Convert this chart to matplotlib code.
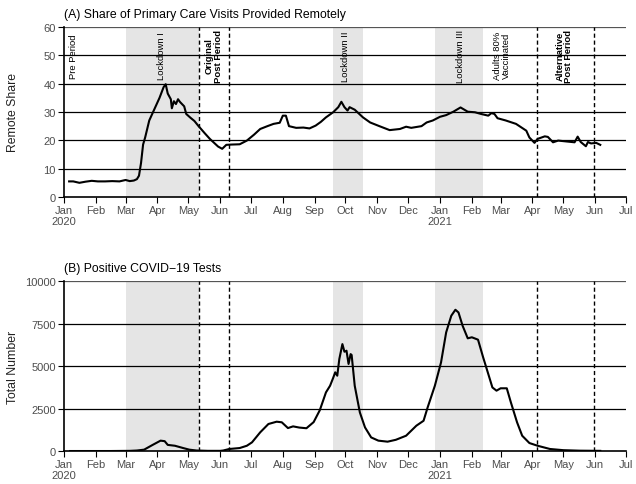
import pandas as pd
import numpy as np
import matplotlib
matplotlib.use('Agg')
import matplotlib.pyplot as plt

plt.rcParams['font.family'] = ['Liberation Sans', 'DejaVu Sans']

# Panel A: remote share of primary care visits (%)
remote_dates = ['2020-01-06', '2020-01-10', '2020-01-16', '2020-01-22', '2020-01-28',
                '2020-02-03', '2020-02-10', '2020-02-17', '2020-02-24', '2020-03-01',
                '2020-03-05', '2020-03-09', '2020-03-12', '2020-03-14', '2020-03-16',
                '2020-03-18', '2020-03-20', '2020-03-24', '2020-03-29', '2020-04-03',
                '2020-04-07', '2020-04-09', '2020-04-11', '2020-04-14', '2020-04-15',
                '2020-04-17', '2020-04-19', '2020-04-21', '2020-04-23', '2020-04-27',
                '2020-04-29', '2020-05-03', '2020-05-07', '2020-05-11', '2020-05-17',
                '2020-05-22', '2020-05-30', '2020-06-03', '2020-06-07', '2020-06-12',
                '2020-06-20', '2020-06-27', '2020-07-04', '2020-07-10', '2020-07-17',
                '2020-07-23', '2020-07-29', '2020-08-01', '2020-08-04', '2020-08-07',
                '2020-08-14', '2020-08-21', '2020-08-27', '2020-09-02', '2020-09-07',
                '2020-09-12', '2020-09-19', '2020-09-24', '2020-09-27', '2020-09-30',
                '2020-10-03', '2020-10-05', '2020-10-10', '2020-10-18', '2020-10-25',
                '2020-11-03', '2020-11-13', '2020-11-23', '2020-11-29', '2020-12-04',
                '2020-12-14', '2020-12-19', '2020-12-25', '2021-01-01', '2021-01-07',
                '2021-01-14', '2021-01-21', '2021-01-28', '2021-02-04', '2021-02-10',
                '2021-02-17', '2021-02-20', '2021-02-23', '2021-02-26', '2021-03-06',
                '2021-03-16', '2021-03-26', '2021-03-29', '2021-04-03', '2021-04-06',
                '2021-04-13', '2021-04-16', '2021-04-21', '2021-04-26', '2021-05-04',
                '2021-05-12', '2021-05-15', '2021-05-18', '2021-05-23', '2021-05-25',
                '2021-05-28', '2021-06-02', '2021-06-06']
remote_share = [5.5, 5.5, 5.0, 5.4, 5.7,
                5.5, 5.5, 5.6, 5.5, 6.0,
                5.6, 5.8, 6.3, 7.5, 12.0,
                18.5, 21.0, 27.0, 31.0, 35.0,
                38.8, 39.8, 36.5, 34.5, 31.3,
                33.8, 32.8, 34.5, 33.5, 32.0,
                29.3, 28.0, 26.8, 25.0, 22.5,
                20.5, 17.8, 17.0, 18.4, 18.5,
                18.6, 19.9, 22.0, 24.0, 25.0,
                25.8, 26.2, 28.7, 28.7, 25.0,
                24.4, 24.5, 24.2, 25.2, 26.5,
                28.1, 29.9, 31.7, 33.6, 31.7,
                30.5, 31.7, 30.8, 28.1, 26.3,
                25.0, 23.6, 24.0, 24.8, 24.4,
                25.0, 26.3, 27.0, 28.3, 28.9,
                30.1, 31.6, 30.1, 29.9, 29.3,
                28.7, 29.6, 29.3, 27.8, 27.0,
                25.8, 23.4, 21.0, 19.1, 20.5,
                21.4, 21.2, 19.3, 19.9, 19.6,
                19.3, 21.3, 19.4, 17.9, 19.4,
                18.9, 19.1, 18.4]

# Panel B: positive COVID-19 tests
covid_dates = ['2020-01-07', '2020-02-15', '2020-03-05', '2020-03-12', '2020-03-19',
               '2020-03-27', '2020-04-04', '2020-04-08', '2020-04-11', '2020-04-18',
               '2020-04-26', '2020-05-02', '2020-05-09', '2020-05-20', '2020-06-01',
               '2020-06-04', '2020-06-10', '2020-06-20', '2020-06-27', '2020-07-02',
               '2020-07-10', '2020-07-18', '2020-07-26', '2020-07-31', '2020-08-06',
               '2020-08-11', '2020-08-17', '2020-08-24', '2020-08-31', '2020-09-06',
               '2020-09-12', '2020-09-16', '2020-09-19', '2020-09-21', '2020-09-23',
               '2020-09-25', '2020-09-28', '2020-09-30', '2020-10-02', '2020-10-04',
               '2020-10-06', '2020-10-07', '2020-10-10', '2020-10-15', '2020-10-20',
               '2020-10-26', '2020-11-02', '2020-11-11', '2020-11-19', '2020-11-29',
               '2020-12-09', '2020-12-16', '2020-12-20', '2020-12-27', '2021-01-02',
               '2021-01-07', '2021-01-12', '2021-01-16', '2021-01-19', '2021-01-23',
               '2021-01-28', '2021-02-01', '2021-02-07', '2021-02-12', '2021-02-17',
               '2021-02-21', '2021-02-25', '2021-03-01', '2021-03-07', '2021-03-11',
               '2021-03-17', '2021-03-22', '2021-03-29', '2021-04-06', '2021-04-18',
               '2021-05-01', '2021-05-17', '2021-06-06']
covid_tests = [0, 0, 10, 30, 80,
               350, 610, 580, 360, 310,
               175, 80, 30, 10, 10,
               30, 120, 175, 310, 510,
               1100, 1590, 1725, 1690, 1350,
               1450, 1380, 1340, 1700, 2400,
               3450, 3840, 4300, 4630, 4430,
               5410, 6290, 5840, 5900, 5120,
               5700, 5650, 3840, 2270, 1390,
               800, 610, 550, 660, 900,
               1490, 1780, 2570, 3840, 5210,
               6980, 7960, 8310, 8150, 7370,
               6630, 6690, 6550, 5510, 4530,
               3740, 3550, 3690, 3690, 2860,
               1690, 900, 470, 310, 120,
               50, 20, 10]

# shaded lockdowns and dashed period boundaries
lockdowns = [('2020-03-01', '2020-05-11'), ('2020-09-19', '2020-10-18'), ('2020-12-27', '2021-02-12')]
dashed = ['2020-05-11', '2020-06-10', '2021-04-05', '2021-05-31']

notes = ['Pre Period', 'Lockdown I', 'Original\nPost Period', 'Lockdown II',
         'Lockdown III', 'Adults 80%\nVaccinated', 'Alternative\nPost Period']
note_dates = ['2020-01-10', '2020-04-05', '2020-05-26', '2020-10-01',
              '2021-01-21', '2021-03-02', '2021-05-02']
note_bold = [False, False, True, False, False, False, True]

month_ticks = pd.date_range('2020-01-01', '2021-07-01', freq='MS')
month_labels = ['Jan\n2020', 'Feb', 'Mar', 'Apr', 'May', 'Jun', 'Jul', 'Aug', 'Sep',
                'Oct', 'Nov', 'Dec', 'Jan\n2021', 'Feb', 'Mar', 'Apr', 'May', 'Jun', 'Jul']

fig = plt.figure(figsize=(6.36, 4.85), dpi=100)
ax1 = fig.add_axes([0.1006, 0.5918, 0.8836, 0.3505])
ax2 = fig.add_axes([0.1006, 0.068, 0.8836, 0.3505])

tick_grey = '#4d4d4d'


def style(ax, yticks, ylabels, ymax, ylabel, title):
    for a, b in lockdowns:
        ax.axvspan(pd.Timestamp(a), pd.Timestamp(b), color='#e5e5e5', lw=0, zorder=0)
    for y in yticks[1:-1]:
        ax.axhline(y, color='black', lw=0.9, zorder=1)
    ax.axhline(yticks[-1], color='#555555', lw=0.9, zorder=1)
    for d in dashed:
        ax.axvline(pd.Timestamp(d), color='black', lw=1, ls=(0, (3, 2)), zorder=2)
    ax.set_xlim(pd.Timestamp('2020-01-01'), pd.Timestamp('2021-07-01'))
    ax.set_ylim(0, ymax)
    ax.set_xticks(month_ticks)
    ax.set_xticklabels(month_labels, color=tick_grey, fontsize=8, linespacing=1.1)
    ax.set_yticks(yticks)
    ax.set_yticklabels(ylabels, color=tick_grey, fontsize=8)
    ax.tick_params(direction='out', length=4, width=0.8, pad=2)
    for s in ['top', 'right']:
        ax.spines[s].set_visible(False)
    ax.spines['left'].set_linewidth(1.2)
    ax.spines['bottom'].set_linewidth(1.2)
    ax.set_ylabel(ylabel, fontsize=8.8, color='#222222')
    ax.yaxis.set_label_coords(-0.080, 0.5)
    ax.set_title(title, loc='left', fontsize=8.8, pad=7)


style(ax1, [0, 10, 20, 30, 40, 50, 60], ['0', '10', '20', '30', '40', '50', '60'], 60,
      'Remote Share', '(A) Share of Primary Care Visits Provided Remotely')
ax1.plot(pd.to_datetime(remote_dates), remote_share, color='black', lw=1.5, zorder=3)
for txt, d, b in zip(notes, note_dates, note_bold):
    ax1.text(pd.Timestamp(d), 50, txt, rotation=90, ha='center', va='center',
             multialignment='center', fontsize=6.8, linespacing=1.0,
             fontweight='bold' if b else 'normal', zorder=4)

style(ax2, [0, 2500, 5000, 7500, 10000], ['0', '2500', '5000', '7500', '10000'], 10000,
      'Total Number', '(B) Positive COVID\u221219 Tests')
ax2.plot(pd.to_datetime(covid_dates), covid_tests, color='black', lw=1.5, zorder=3)

fig.savefig('out.png', dpi=100)
